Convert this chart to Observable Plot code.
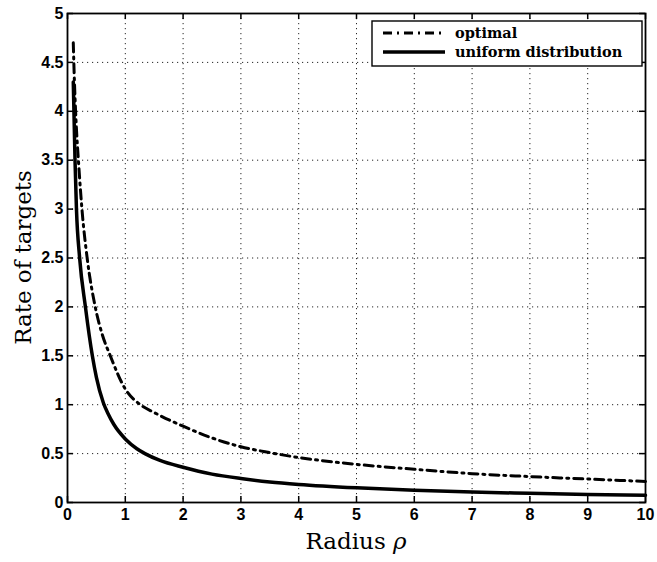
<!DOCTYPE html>
<html><head><meta charset="utf-8">
<script src="https://cdn.jsdelivr.net/npm/d3@7"></script>
<script src="https://cdn.jsdelivr.net/npm/@observablehq/plot@0.6"></script>
<style>body{margin:0;background:#fff} svg{display:block}</style>
</head><body><div id="chart"></div>
<script>
// Data
const rhoUniform  = [0.1, 0.13, 0.155, 0.21, 0.31, 0.43, 0.5, 0.62, 0.7, 0.8, 1.0, 1.2, 1.34, 1.6, 2, 2.5, 3, 3.5, 4, 5, 6, 7, 8, 9, 10];
const rateUniform = [4.3, 3.5, 3.0, 2.5, 2.0, 1.5, 1.28, 1.02, 0.91, 0.8, 0.65, 0.55, 0.5, 0.43, 0.36, 0.29, 0.245, 0.21, 0.185, 0.15, 0.125, 0.107, 0.094, 0.083, 0.075];
const rhoOptimal  = [0.1, 0.12, 0.14, 0.2, 0.25, 0.34, 0.48, 0.6, 0.74, 1.0, 1.26, 1.5, 2, 2.5, 3, 3.5, 4, 5, 6, 7, 8, 9, 10];
const rateOptimal = [4.7, 4.3, 4.0, 3.4, 3.0, 2.5, 2.0, 1.72, 1.5, 1.16, 1.0, 0.92, 0.78, 0.66, 0.57, 0.51, 0.46, 0.39, 0.34, 0.295, 0.265, 0.24, 0.215];
const xTicks = [0, 1, 2, 3, 4, 5, 6, 7, 8, 9, 10];
const yTicks = [0, 0.5, 1, 1.5, 2, 2.5, 3, 3.5, 4, 4.5, 5];
const seriesNames = ["optimal", "uniform distribution"];
const xLabelText = "Radius ";
const xLabelSymbol = "ρ";
const yLabelText = "Rate of targets";

const uniform = rhoUniform.map((x, i) => ({x, y: rateUniform[i]}));
const optimal = rhoOptimal.map((x, i) => ({x, y: rateOptimal[i]}));

const W = 657, H = 562, mL = 67, mR = 12, mT = 13, mB = 60;
const innerW = W - mL - mR, innerH = H - mT - mB;
const tickLen = 6;
const dashDot = "9,5,2,5";

const plot = Plot.plot({
  width: W, height: H,
  marginLeft: mL, marginRight: mR, marginTop: mT, marginBottom: mB,
  style: {background: "#fff", color: "#000", overflow: "visible"},
  x: {domain: [0, 10]},
  y: {domain: [0, 5]},
  marks: [
    Plot.gridX(xTicks, {stroke: "#000", strokeOpacity: 0.85, strokeDasharray: "1.2,3.8"}),
    Plot.gridY(yTicks, {stroke: "#000", strokeOpacity: 0.85, strokeDasharray: "1.2,3.8"}),
    Plot.line(uniform, {x: "x", y: "y", stroke: "#000", strokeWidth: 3.5, curve: "monotone-x"}),
    Plot.line(optimal, {x: "x", y: "y", stroke: "#000", strokeWidth: 3, strokeDasharray: dashDot, curve: "monotone-x"}),
    Plot.tickX(xTicks, {x: d => d, insetTop: innerH - tickLen, stroke: "#000", strokeWidth: 1.5}),
    Plot.tickX(xTicks, {x: d => d, insetBottom: innerH - tickLen, stroke: "#000", strokeWidth: 1.5}),
    Plot.tickY(yTicks, {y: d => d, insetRight: innerW - tickLen, stroke: "#000", strokeWidth: 1.5}),
    Plot.tickY(yTicks, {y: d => d, insetLeft: innerW - tickLen, stroke: "#000", strokeWidth: 1.5}),
    Plot.frame({stroke: "#000", strokeWidth: 1.8}),
    Plot.axisX(xTicks, {tickSize: 0, tickPadding: 6, label: null, tickFormat: d => `${d}`}),
    Plot.axisY(yTicks, {tickSize: 0, tickPadding: 4, label: null, tickFormat: d => `${d}`})
  ]
});

document.getElementById("chart").appendChild(plot);
const svg = d3.select(plot);

// Tick label font
svg.selectAll('g[aria-label$="tick label"]')
  .attr("font-family", "Liberation Sans, Arial, sans-serif")
  .attr("font-size", 16).attr("font-weight", "bold")
  .style("font-family", "'Liberation Sans', Arial, sans-serif")
  .style("font-size", "16px").style("font-weight", "bold");

// Axis labels
const xl = svg.append("text")
  .attr("x", mL + innerW / 2).attr("y", 549)
  .attr("text-anchor", "middle").attr("font-weight", "normal")
  .attr("font-family", "DejaVu Serif, serif").attr("font-size", 23).attr("fill", "#000");
xl.append("tspan").text(xLabelText);
xl.append("tspan").attr("font-style", "italic").text(xLabelSymbol);

svg.append("text")
  .attr("transform", `translate(31,${mT + innerH / 2}) rotate(-90)`)
  .attr("text-anchor", "middle").attr("font-weight", "normal")
  .attr("font-family", "DejaVu Serif, serif").attr("font-size", 23).attr("fill", "#000")
  .text(yLabelText);

// Legend
const lg = svg.append("g");
lg.append("rect").attr("x", 372).attr("y", 21).attr("width", 270).attr("height", 45)
  .attr("fill", "#fff").attr("stroke", "#000").attr("stroke-width", 1.4);
const rows = [{name: seriesNames[0], dash: dashDot, w: 3}, {name: seriesNames[1], dash: null, w: 3.5}];
rows.forEach((r, i) => {
  const cy = 33 + i * 19;
  lg.append("line").attr("x1", 383).attr("x2", 445).attr("y1", cy).attr("y2", cy)
    .attr("stroke", "#000").attr("stroke-width", r.w).attr("stroke-dasharray", r.dash);
  lg.append("text").attr("x", 455).attr("y", cy).attr("dy", "0.35em")
    .attr("text-anchor", "start")
    .attr("font-family", "DejaVu Serif, serif").attr("font-weight", "bold").attr("font-size", 14.5)
    .attr("fill", "#000").text(r.name);
});
</script>
</body></html>
